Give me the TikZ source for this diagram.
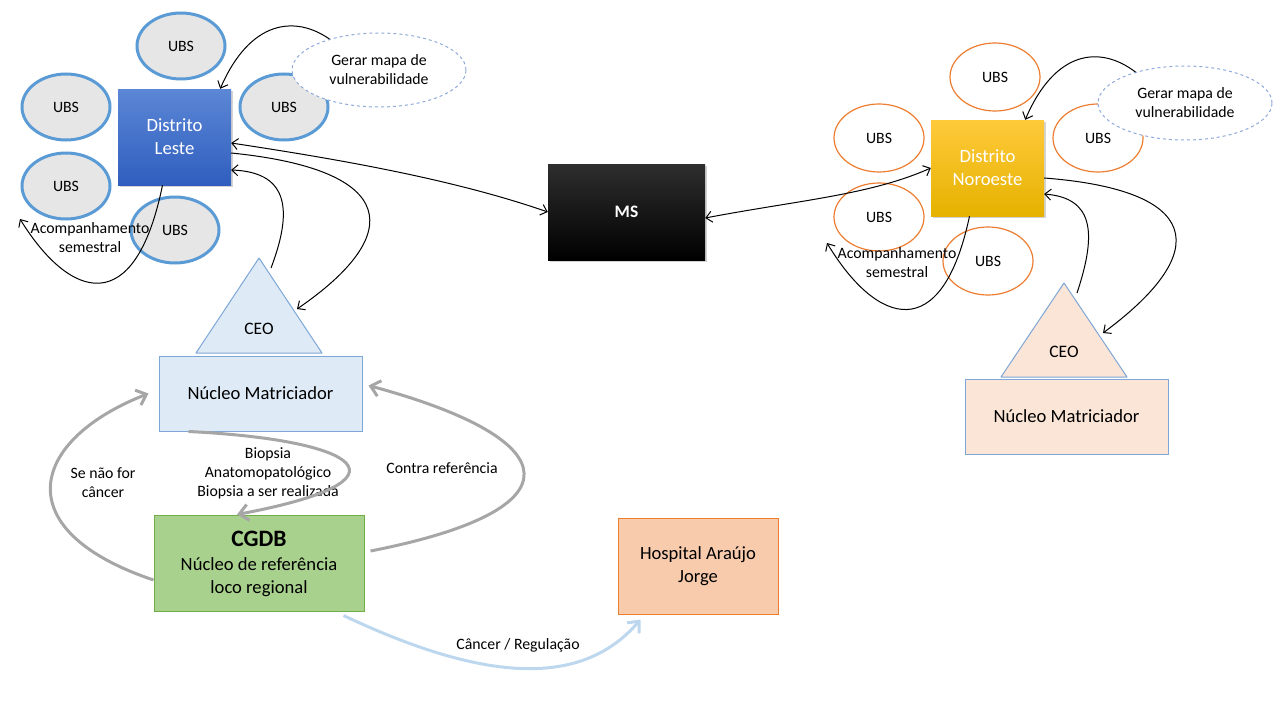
\documentclass[tikz,border=0pt]{standalone}
\usepackage{fontspec}
\setmainfont{Carlito}
\usetikzlibrary{positioning,shapes.geometric,arrows.meta,shadows}

\definecolor{ubsblue}{HTML}{5B9BD5}
\definecolor{ubsgray}{HTML}{E7E6E6}
\definecolor{ubsorange}{HTML}{ED7D31}
\definecolor{dashblue}{HTML}{8EAADB}
\definecolor{lesteTop}{HTML}{5C87D6}
\definecolor{lesteBot}{HTML}{2F5EBE}
\definecolor{noroTop}{HTML}{FFCA3A}
\definecolor{noroBot}{HTML}{E5B200}
\definecolor{paleblue}{HTML}{DEEBF7}
\definecolor{edgeblue}{HTML}{7EA6D6}
\definecolor{palepeach}{HTML}{FBE5D6}
\definecolor{cgdbgreen}{HTML}{A9D18E}
\definecolor{cgdbedge}{HTML}{70AD47}
\definecolor{hospfill}{HTML}{F8CBAD}
\definecolor{flowgray}{HTML}{A6A6A6}
\definecolor{flowblue}{HTML}{BDD7EE}

\begin{document}
\begin{tikzpicture}
    [ x = 1pt, y = -1pt
    , >= {Straight Barb[length=6pt,width=11pt]}
    , every node/.style =
      { inner sep = 0pt, align = center }
    , lbl/.style =
      { font = \fontsize{15.8}{19}\selectfont }
    , ubsL/.style =
      { ellipse, draw = ubsblue, fill = ubsgray, line width = 3pt
      , minimum width = 88pt, minimum height = 66pt, lbl }
    , ubsR/.style =
      { ellipse, draw = ubsorange, fill = white, line width = 1.2pt
      , minimum width = 90pt, minimum height = 68pt, lbl }
    , mapa/.style =
      { ellipse, draw = dashblue, dashed, fill = white, line width = 1pt
      , minimum width = 174pt, minimum height = 74pt, lbl }
    , distrito/.style =
      { rectangle, minimum width = 113pt, minimum height = 96pt, text = white
      , font = \fontsize{18.7}{23}\selectfont
      , drop shadow = {shadow xshift=2pt,shadow yshift=-2pt,opacity=.35} }
    , ms/.style =
      { distrito, minimum width = 157pt, top color = black!82, middle color = black
      , bottom color = black, font = \fontsize{17.5}{20}\selectfont\bfseries }
    , ceo/.style =
      { draw = edgeblue, line width = 1pt, line join = round }
    , ceotext/.style =
      { font = \fontsize{17.5}{20}\selectfont }
    , nucleo/.style =
      { rectangle, draw = edgeblue, line width = 1pt, minimum width = 203pt
      , minimum height = 75pt, font = \fontsize{18.6}{23.5}\selectfont }
    , cgdb/.style =
      { nucleo, draw = cgdbedge, fill = cgdbgreen, minimum width = 210pt
      , minimum height = 96pt }
    , hosp/.style =
      { nucleo, draw = ubsorange, fill = hospfill, minimum width = 160pt
      , minimum height = 96pt }
    , link/.style =
      { line width = 1pt, -> }
    , twoway/.style =
      { line width = 1pt, <-> }
    , flow/.style =
      { draw = flowgray, line width = 3pt, -{Straight Barb[length=9pt,width=16pt]} }
    , regul/.style =
      { flow, draw = flowblue }
    ]
    \useasboundingbox (0,0) rectangle (1280,720);

    % Distrito Leste
    \node [ubsL] (ubsL1) at (181,46) {UBS};
    \node [ubsL] (ubsL2) at (66,107) {UBS};
    \node [ubsL] (ubsL3) at (284,107) {UBS};
    \node [ubsL] (ubsL4) at (66,186) {UBS};
    \node [ubsL] (ubsL5) at (175,230) {UBS};
    \node [distrito, top color=lesteTop, bottom color=lesteBot] (leste) at (174.5,137) {Distrito\\Leste};
    \node [mapa] (mapaL) at (379,70) {Gerar mapa de\\vulnerabilidade};

    % Distrito Noroeste
    \node [ubsR] (ubsR1) at (995,77) {UBS};
    \node [ubsR] (ubsR2) at (879,138) {UBS};
    \node [ubsR] (ubsR3) at (1098,138) {UBS};
    \node [ubsR] (ubsR4) at (879,217) {UBS};
    \node [ubsR] (ubsR5) at (988,261) {UBS};
    \node [distrito, top color=noroTop, bottom color=noroBot] (noroeste) at (987.5,168) {Distrito\\Noroeste};
    \node [mapa] (mapaR) at (1185,103) {Gerar mapa de\\vulnerabilidade};

    \node [ms] (ms) at (626.5,212) {MS};

    % CEO e nucleos
    \filldraw [ceo, fill=paleblue] (196,353) -- (259,258) -- (322,353) -- cycle;
    \filldraw [ceo, fill=palepeach] (1001,377) -- (1064,283) -- (1127,377) -- cycle;
    \node [ceotext] (ceoL) at (259,329) {CEO};
    \node [ceotext] (ceoR) at (1064,352) {CEO};
    \coordinate (ceoLtop) at (271,268);
    \coordinate (ceoLin) at (297,309);
    \coordinate (ceoRtop) at (1077,293);
    \coordinate (ceoRin) at (1103,333);
    \node [nucleo, fill=paleblue] (nucL) at (260.5,393.5) {Núcleo Matriciador};
    \node [nucleo, fill=palepeach] (nucR) at (1066.5,416.5) {Núcleo Matriciador};

    \node [cgdb] (cgdb) at (259,563)
      {\raisebox{0pt}[18pt][0pt]{\fontsize{23.5}{26}\selectfont\bfseries CGDB}\\Núcleo de referência\\loco regional};
    \node [hosp] (hosp) at (698,566) {Hospital Araújo\\Jorge};

    % rotulos
    \node [lbl] (acompL) at (90,238) {Acompanhamento\\semestral};
    \node [lbl] (acompR) at (897,263) {Acompanhamento\\semestral};
    \node [lbl] (naoCancer) at (103,483) {Se não for\\câncer};
    \node [lbl] (biopsia) at (268,473) {Biopsia\\Anatomopatológico\\Biopsia a ser realizada};
    \node [lbl] (contra) at (442,468) {Contra referência};
    \node [lbl] (regulacao) at (518,645) {Câncer / Regulação};
    \coordinate (acompLend) at (20,219);
    \coordinate (acompRend) at (827,243);

    % ligacoes
    \draw [link] (mapaL.148) .. controls (295,15) and (250,20) .. ([xshift=-11pt]leste.north east);
    \draw [link] (mapaR.148) .. controls (1100,45) and (1055,50) .. ([xshift=-19pt]noroeste.north east);
    \draw [link] ([xshift=-12pt]leste.south) .. controls (135,320) and (70,300) .. (acompLend);
    \draw [link] ([xshift=-18pt]noroeste.south) .. controls (942,346) and (877,326) .. (acompRend);
    \draw [twoway] ([yshift=-6pt]leste.east) .. controls (330,158) and (450,178) .. (ms.west);
    \draw [twoway] ([yshift=-6pt]ms.east) .. controls (800,200) and (870,195) .. (noroeste.west);
    \draw [link] ([yshift=-16pt]leste.east) .. controls (400,170) and (405,235) .. (ceoLin);
    \draw [link] (ceoLtop) .. controls (295,205) and (285,172) .. ([yshift=-33pt]leste.east);
    \draw [link] ([yshift=-10pt]noroeste.east) .. controls (1200,190) and (1215,250) .. (ceoRin);
    \draw [link] (ceoRtop) .. controls (1098,230) and (1092,198) .. ([yshift=-26pt]noroeste.east);

    \draw [flow] ([yshift=-17pt]cgdb.west) .. controls (5,530) and (30,440) .. ([xshift=-10pt]nucL.west);
    \draw [flow] ([xshift=-72pt]nucL.south) .. controls (360,440) and (420,480) .. ([xshift=-22pt]cgdb.north);
    \draw [flow] ([xshift=6pt,yshift=12pt]cgdb.east) .. controls (580,510) and (570,440) .. ([xshift=6pt,yshift=8pt]nucL.east);
    \draw [regul] ([xshift=-21pt,yshift=-4pt]cgdb.south east) .. controls (480,680) and (580,690) .. ([xshift=23pt,yshift=-5pt]hosp.south west);
\end{tikzpicture}
\end{document}
